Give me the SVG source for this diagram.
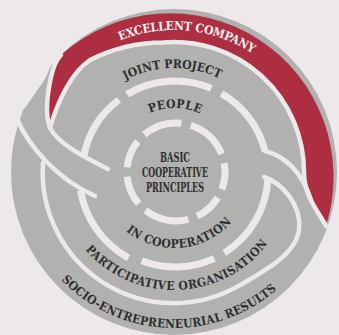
<svg xmlns="http://www.w3.org/2000/svg" width="339" height="335" viewBox="0 0 339 335">
<style>
.gap{fill:none;stroke:#ede9ea;stroke-width:4.5;stroke-linecap:round}
.dash{fill:none;stroke:#ede9ea;stroke-width:7;stroke-linecap:butt}
.lbl{font-family:"DejaVu Serif Condensed","DejaVu Serif",serif;font-stretch:condensed;font-weight:bold;font-size:12px;fill:#2e2e2e;letter-spacing:0.4px}
.core{font-family:"DejaVu Serif Condensed","DejaVu Serif",serif;font-stretch:condensed;font-weight:bold;font-size:12.5px;fill:#2e2e2e;text-anchor:middle}
</style>
<defs>
<path id="pExc" d="M 51,101 A 142 142 0 0 1 308.3,125.8"/>
<path id="pJoint" d="M 79,129.7 A 104 104 0 0 1 267.5,126.4"/>
<path id="pPeople" d="M 116.5,143.9 A 64 64 0 0 1 232.5,146"/>
<path id="pCoop" d="M 107.3,209.5 A 77 77 0 0 0 246.4,197.3"/>
<path id="pPart" d="M 68.9,225.6 A 118 118 0 0 0 282.6,218.1"/>
<path id="pSocio" d="M 27.4,225.4 A 156 156 0 0 0 315.4,237.9"/>
</defs>
<rect width="339" height="335" fill="#ede9ea"/>
<g id="disk">
<circle cx="174" cy="172" r="163" fill="#b1b1b0"/>
<polygon points="-10,124 25,108 45,79 50,68 56,58 62,50 60,0 -10,0" fill="#ede9ea"/>
</g>
<g id="excellent-company">
<path d="M 50,128 C 43,110 50,66 61,55 A 163.5 163.5 0 0 1 326,226 C 316,208 304,195 304,172 A 130 130 0 0 0 162.7,42.5 A 164 164 0 0 0 90,60 C 72,72 58,100 50,128 Z" fill="#ad2e40"/>
</g>
<g id="connectors">
<path class="gap" d="M 326,226 C 316,208 304,195 304,172 A 130 130 0 0 0 162.7,42.5 A 164 164 0 0 0 90,60 C 72,72 58,100 50,128"/>
<path class="gap" d="M 61,55 C 50,66 43,110 50,128 C 58,143 80,155 108,169"/>
<path class="gap" d="M 16,117 C 28,145 55,178 95,196"/>
<path class="gap" d="M 43,163 A 131 131 0 0 0 239.5,285.4 C 261,273 296,255 299,230 C 302,205 282,183 264,177"/>
<path class="gap" d="M 265,151 C 285,156 302,172 311,200"/>
<path class="dash" d="M 83.7,156.3 A 93 93 0 0 1 119,99.7"/>
<path class="dash" d="M 127.1,94.3 A 93 93 0 0 1 211.3,88.4"/>
<path class="dash" d="M 221.5,93.5 A 93 93 0 0 1 265.2,151.5"/>
<path class="dash" d="M 267.9,178.9 A 93 93 0 0 1 224.3,252.9"/>
<path class="dash" d="M 214.3,258.3 A 93 93 0 0 1 141.7,260.8"/>
<path class="dash" d="M 128.5,258 A 96 96 0 0 1 80.5,190.7"/>
<path class="dash" d="M 217.8,197.6 A 49 49 0 0 1 197.1,216.2"/>
<path class="dash" d="M 188.3,219.4 A 49 49 0 0 1 145.5,210.3"/>
<path class="dash" d="M 138.7,203.8 A 49 49 0 0 1 127.2,176.7"/>
<path class="dash" d="M 127.2,167.3 A 49 49 0 0 1 137.7,141.5"/>
<path class="dash" d="M 144.2,134.7 A 49 49 0 0 1 181.5,123.3"/>
<path class="dash" d="M 190.7,125.3 A 49 49 0 0 1 221.6,154"/>
<path class="dash" d="M 224.2,163.1 A 49 49 0 0 1 221.9,189.2"/>
</g>
<g id="labels">
<text class="lbl" style="fill:#f6f2f2;letter-spacing:-0.2px"><textPath href="#pExc" startOffset="50%" text-anchor="middle">EXCELLENT COMPANY</textPath></text>
<text class="lbl" style="letter-spacing:0px"><textPath href="#pJoint" startOffset="50%" text-anchor="middle">JOINT PROJECT</textPath></text>
<text class="lbl"><textPath href="#pPeople" startOffset="50%" text-anchor="middle">PEOPLE</textPath></text>
<text class="lbl"><textPath href="#pCoop" startOffset="50%" text-anchor="middle">IN COOPERATION</textPath></text>
<text class="lbl"><textPath href="#pPart" startOffset="50%" text-anchor="middle">PARTICIPATIVE ORGANISATION</textPath></text>
<text class="lbl" style="letter-spacing:0.2px"><textPath href="#pSocio" startOffset="50%" text-anchor="middle">SOCIO-ENTREPRENEURIAL RESULTS</textPath></text>
</g>
<g id="basic-principles">
<text class="core" x="175" y="161.5" textLength="30" lengthAdjust="spacingAndGlyphs">BASIC</text>
<text class="core" x="175" y="176.5" textLength="66" lengthAdjust="spacingAndGlyphs">COOPERATIVE</text>
<text class="core" x="175" y="191.5" textLength="58" lengthAdjust="spacingAndGlyphs">PRINCIPLES</text>
</g>
</svg>
